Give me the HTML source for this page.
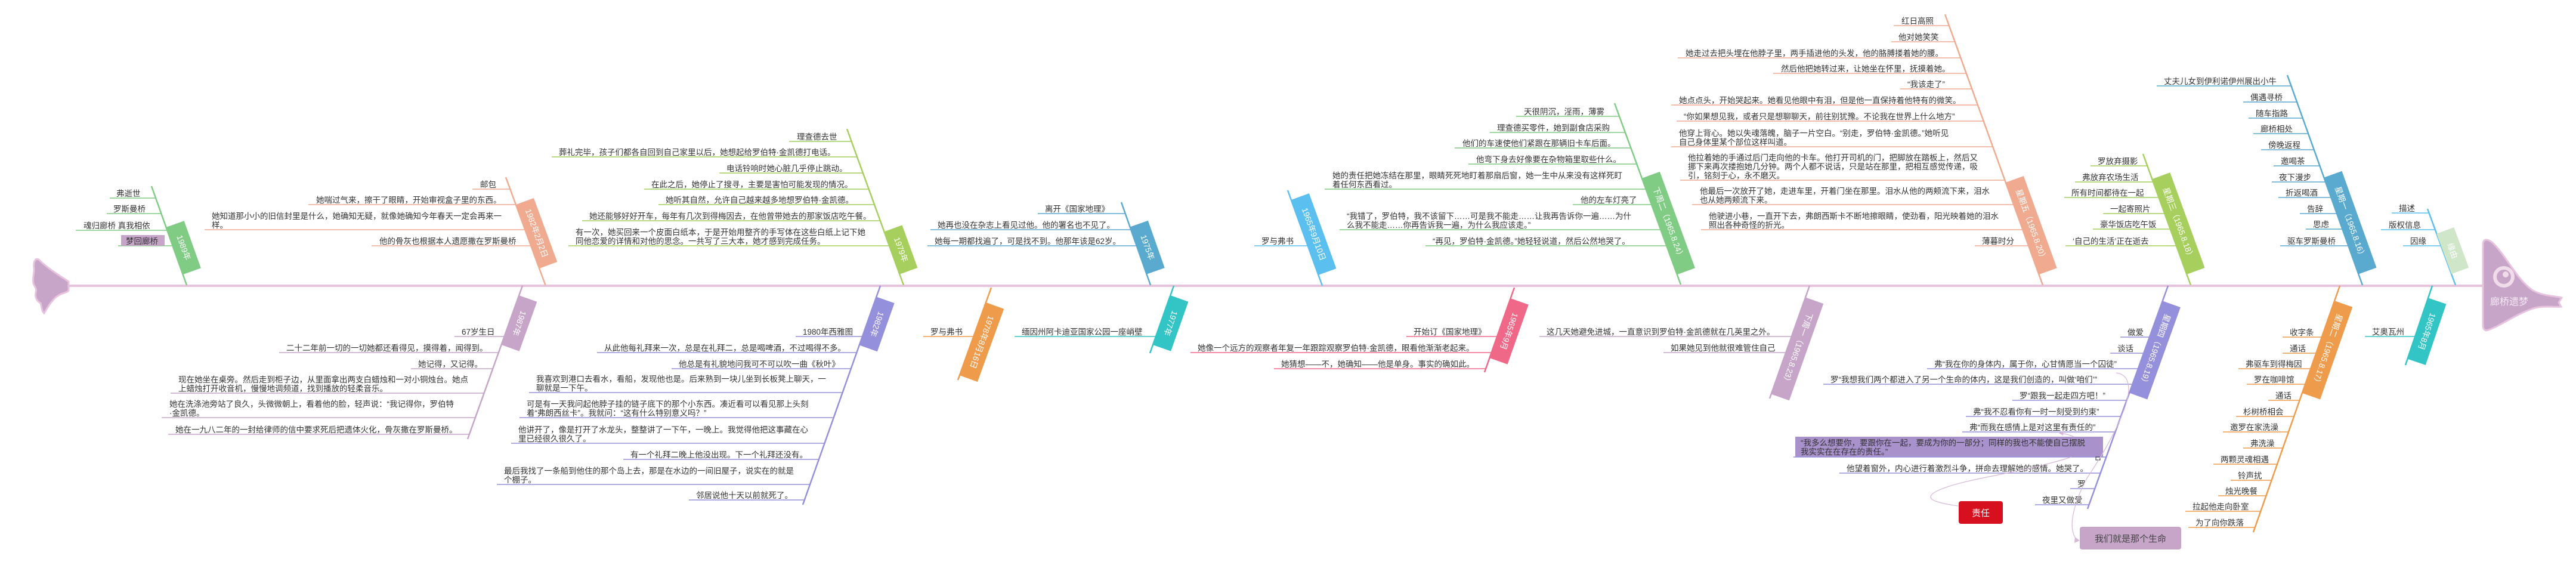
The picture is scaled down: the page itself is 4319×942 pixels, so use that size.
<!DOCTYPE html>
<html><head><meta charset="utf-8"><style>
html,body{margin:0;padding:0;background:#fff;}
svg{display:block;}
text{font-family:"Liberation Sans","Noto Sans CJK SC",sans-serif;font-size:13.5px;fill:#333;}
.bt{fill:#fff;font-size:13.5px;text-anchor:middle;dominant-baseline:central;}
</style></head><body>
<svg width="4319" height="942" viewBox="0 0 4319 942" xmlns="http://www.w3.org/2000/svg">
<!-- spine -->
<line x1="110" y1="479" x2="4168" y2="479" stroke="#e8c3de" stroke-width="4"/>
<path d="M115,472 C100,462 80,450 65,435 C58,432 56,440 57,450 C58,458 54,465 56,475 C58,482 62,482 60,490 C58,498 62,505 68,508 C70,515 70,522 74,525 C80,515 88,500 100,494 C108,490 115,490 115,486 Z" fill="#c6a5c9" stroke="#e8c3de" stroke-width="3"/>
<!-- head -->
<path d="M4163,410 C4163,400 4170,400 4178,406 C4200,425 4220,470 4247,487 C4265,497 4285,496 4295,499 L4290,507 L4294,514 C4280,515 4262,512 4247,517 C4215,528 4195,545 4172,553 C4165,556 4163,550 4163,545 Z" fill="#c6a5c9" stroke="#e8c3de" stroke-width="3"/>
<circle cx="4198" cy="464" r="18" fill="#f1dcea"/>
<circle cx="4198" cy="464" r="12" fill="#c6a5c9"/>
<circle cx="4201" cy="460" r="5" fill="#f1dcea"/>
<text x="4207" y="511" style="font-size:16px;fill:#f6eaf3;text-anchor:middle">廊桥遗梦</text>

<!-- U1 1989 -->
<g stroke="#80cc84" stroke-width="1.5">
<line x1="254" y1="312" x2="313" y2="478" stroke-width="2.5"/>
<line x1="184" y1="332" x2="261" y2="332"/>
<line x1="179" y1="358" x2="270" y2="358"/>
<line x1="127" y1="386" x2="280" y2="386"/>
<line x1="198" y1="412" x2="289" y2="412"/>
</g>
<rect x="203" y="394" width="73" height="18" fill="#c6a5c9"/>
<text x="195" y="329">弗逝世</text>
<text x="190" y="355">罗斯曼桥</text>
<text x="140" y="383">魂归廊桥  真我相依</text>
<text x="211" y="409">梦回廊桥</text>
<g transform="translate(292.6,420.5) rotate(70.4)"><rect x="-42" y="-32" width="84" height="32" fill="#80cc84"/><text class="bt" x="0" y="-16">1989年</text></g>

<!-- U2 1982.2.2 -->
<g stroke="#f0aa90" stroke-width="1.5">
<line x1="848" y1="297" x2="914.5" y2="478" stroke-width="2.5"/>
<line x1="792" y1="317" x2="855" y2="317"/>
<line x1="517" y1="343" x2="865" y2="343"/>
<line x1="343" y1="385" x2="880" y2="385"/>
<line x1="623" y1="412" x2="890" y2="412"/>
</g>
<text x="805" y="314">邮包</text>
<text x="530" y="340">她喘过气来，擦干了眼睛，开始审视盒子里的东西。</text>
<text x="355" y="367">她知道那小小的旧信封里是什么，她确知无疑，就像她确知今年春天一定会再来一</text>
<text x="355" y="382">样。</text>
<text x="636" y="409">他的骨灰也根据本人遗愿撒在罗斯曼桥</text>
<g transform="translate(884.6,396.5) rotate(69.8)"><rect x="-57" y="-32" width="114" height="32" fill="#f0aa90"/><text class="bt" x="0" y="-16">1982年2月2日</text></g>

<!-- U3 1979 -->
<g stroke="#a6cf5d" stroke-width="1.5">
<line x1="1420" y1="216" x2="1515" y2="478" stroke-width="2.5"/>
<line x1="1323" y1="237" x2="1428" y2="237"/>
<line x1="925" y1="263" x2="1437" y2="263"/>
<line x1="1206" y1="290" x2="1447" y2="290"/>
<line x1="1080" y1="317" x2="1457" y2="317"/>
<line x1="1104" y1="343" x2="1466" y2="343"/>
<line x1="976" y1="370" x2="1476" y2="370"/>
<line x1="953" y1="412" x2="1491" y2="412"/>
</g>
<text x="1336" y="234">理查德去世</text>
<text x="937" y="260">葬礼完毕，孩子们都各自回到自己家里以后，她想起给罗伯特·金凯德打电话。</text>
<text x="1218" y="287">电话铃响时她心脏几乎停止跳动。</text>
<text x="1092" y="314">在此之后，她停止了搜寻，主要是害怕可能发现的情况。</text>
<text x="1116" y="340">她听其自然，允许自己越来越多地想罗伯特·金凯德。</text>
<text x="988" y="367">她还能够好好开车，每年有几次到得梅因去，在他曾带她去的那家饭店吃午餐。</text>
<text x="965" y="394">有一次，她买回来一个皮面白纸本，于是开始用整齐的手写体在这些白纸上记下她</text>
<text x="965" y="409">同他恋爱的详情和对他的思念。一共写了三大本，她才感到完成任务。</text>
<g transform="translate(1495.4,424) rotate(70.1)"><rect x="-38" y="-32" width="76" height="32" fill="#a6cf5d"/><text class="bt" x="0" y="-16">1979年</text></g>

<!-- U4 1975 -->
<g stroke="#5aaad0" stroke-width="1.5">
<line x1="1880" y1="339" x2="1929" y2="478" stroke-width="2.5"/>
<line x1="1740" y1="358" x2="1887" y2="358"/>
<line x1="1560" y1="385" x2="1896" y2="385"/>
<line x1="1555" y1="412" x2="1906" y2="412"/>
</g>
<text x="1752" y="355">离开《国家地理》</text>
<text x="1572" y="382">她再也没在杂志上看见过他。他的署名也不见了。</text>
<text x="1567" y="409">她每一期都找遍了，可是找不到。他那年该是62岁。</text>
<g transform="translate(1908.6,420) rotate(70.6)"><rect x="-42" y="-32" width="84" height="32" fill="#5aaad0"/><text class="bt" x="0" y="-16">1975年</text></g>

<!-- U5 1965.9.10 -->
<g stroke="#5bc0f0" stroke-width="1.5">
<line x1="2159" y1="319" x2="2217" y2="479" stroke-width="2.5"/>
<line x1="2103" y1="412" x2="2193" y2="412"/>
</g>
<text x="2115" y="409">罗与弗书</text>
<g transform="translate(2187.6,398) rotate(70.1)"><rect x="-67" y="-32" width="134" height="32" fill="#5bc0f0"/><text class="bt" x="0" y="-16">1965年9月10日</text></g>

<!-- U6 下周二 -->
<g stroke="#80cc84" stroke-width="1.5">
<line x1="2707" y1="173" x2="2818" y2="477" stroke-width="2.5"/>
<line x1="2542" y1="195" x2="2715" y2="195"/>
<line x1="2498" y1="222" x2="2725" y2="222"/>
<line x1="2439" y1="248" x2="2734" y2="248"/>
<line x1="2462" y1="275" x2="2744" y2="275"/>
<line x1="2221" y1="317" x2="2760" y2="317"/>
<line x1="2637" y1="343" x2="2769" y2="343"/>
<line x1="2246" y1="385" x2="2784" y2="385"/>
<line x1="2390" y1="412" x2="2794" y2="412"/>
</g>
<text x="2555" y="192">天很阴沉，淫雨，薄雾</text>
<text x="2510" y="219">理查德买零件，她到副食店采购</text>
<text x="2452" y="245">他们的车速使他们紧跟在那辆旧卡车后面。</text>
<text x="2475" y="272">他弯下身去好像要在杂物箱里取些什么。</text>
<text x="2234" y="299">她的责任把她冻结在那里，眼睛死死地盯着那扇后窗，她一生中从来没有这样死盯</text>
<text x="2234" y="314">着任何东西看过。</text>
<text x="2650" y="340">他的左车灯亮了</text>
<text x="2258" y="367">“我错了，罗伯特，我不该留下……可是我不能走……让我再告诉你一遍……为什</text>
<text x="2258" y="382">么我不能走……你再告诉我一遍，为什么我应该走。”</text>
<text x="2402" y="409">“再见，罗伯特·金凯德。”她轻轻说道，然后公然地哭了。</text>
<g transform="translate(2782.4,379.5) rotate(69.9)"><rect x="-86" y="-32" width="172" height="32" fill="#80cc84"/><text class="bt" x="0" y="-16">下周二（1965.8.24）</text></g>

<!-- U7 星期五 -->
<g stroke="#f0aa90" stroke-width="1.5">
<line x1="3261" y1="24" x2="3425" y2="478" stroke-width="2.5"/>
<line x1="3175" y1="43" x2="3268" y2="43"/>
<line x1="3171" y1="70" x2="3278" y2="70"/>
<line x1="2813" y1="97" x2="3287" y2="97"/>
<line x1="2973" y1="123" x2="3297" y2="123"/>
<line x1="3186" y1="149" x2="3306" y2="149"/>
<line x1="2802" y1="176" x2="3316" y2="176"/>
<line x1="2811" y1="203" x2="3326" y2="203"/>
<line x1="2802" y1="246" x2="3341" y2="246"/>
<line x1="2817" y1="302" x2="3361" y2="302"/>
<line x1="2837" y1="343" x2="3376" y2="343"/>
<line x1="2852" y1="385" x2="3391" y2="385"/>
<line x1="3311" y1="412" x2="3401" y2="412"/>
</g>
<text x="3188" y="40">红日高照</text>
<text x="3183" y="67">他对她笑笑</text>
<text x="2826" y="94">她走过去把头埋在他脖子里，两手插进他的头发，他的胳膊搂着她的腰。</text>
<text x="2986" y="120">然后他把她转过来，让她坐在怀里，抚摸着她。</text>
<text x="3198" y="146">“我该走了”</text>
<text x="2815" y="173">她点点头，开始哭起来。她看见他眼中有泪，但是他一直保持着他特有的微笑。</text>
<text x="2823" y="200">“你如果想见我，或者只是想聊聊天，前往别犹豫。不论我在世界上什么地方”</text>
<text x="2815" y="228">他穿上背心。她以失魂落魄，脑子一片空白。“别走，罗伯特·金凯德。”她听见</text>
<text x="2815" y="243">自己身体里某个部位这样叫道。</text>
<text x="2830" y="269">他拉着她的手通过后门走向他的卡车。他打开司机的门，把脚放在踏板上，然后又</text>
<text x="2830" y="284">挪下来再次搂抱她几分钟。两个人都不说话，只是站在那里，把相互感觉传递，吸</text>
<text x="2830" y="299">引，铭刻于心，永不磨灭。</text>
<text x="2850" y="325">他最后一次放开了她，走进车里，开着门坐在那里。泪水从他的两颊流下来，泪水</text>
<text x="2850" y="340">也从她两颊流下来。</text>
<text x="2865" y="367">他驶进小巷，一直开下去，弗朗西斯卡不断地擦眼睛，使劲看，阳光映着她的泪水</text>
<text x="2865" y="382">照出各种奇怪的折光。</text>
<text x="3323" y="409">薄暮时分</text>
<g transform="translate(3390.7,383) rotate(70.1)"><rect x="-82" y="-32" width="164" height="32" fill="#f0aa90"/><text class="bt" x="0" y="-16">星期五（1965.8.20）</text></g>

<!-- U8 星期三 -->
<g stroke="#a6cf5d" stroke-width="1.5">
<line x1="3593" y1="258" x2="3673" y2="478" stroke-width="2.5"/>
<line x1="3505" y1="278" x2="3600" y2="278"/>
<line x1="3479" y1="305" x2="3610" y2="305"/>
<line x1="3461" y1="331" x2="3620" y2="331"/>
<line x1="3526" y1="358" x2="3629" y2="358"/>
<line x1="3509" y1="384" x2="3639" y2="384"/>
<line x1="3463" y1="412" x2="3649" y2="412"/>
</g>
<text x="3517" y="275">罗放弃摄影</text>
<text x="3491" y="302">弗放弃农场生活</text>
<text x="3473" y="328">所有时间都待在一起</text>
<text x="3538" y="355">一起寄照片</text>
<text x="3521" y="381">豪华饭店吃午饭</text>
<text x="3475" y="409">‘自己的生活’正在逝去</text>
<g transform="translate(3637.4,380) rotate(70)"><rect x="-85" y="-32" width="170" height="32" fill="#a6cf5d"/><text class="bt" x="0" y="-16">星期三（1965.8.18）</text></g>

<!-- U9 星期一 -->
<g stroke="#5aaad0" stroke-width="1.5">
<line x1="3835" y1="126" x2="3961" y2="478" stroke-width="2.5"/>
<line x1="3616" y1="144" x2="3841" y2="144"/>
<line x1="3761" y1="171" x2="3851" y2="171"/>
<line x1="3770" y1="198" x2="3861" y2="198"/>
<line x1="3778" y1="224" x2="3870" y2="224"/>
<line x1="3791" y1="251" x2="3880" y2="251"/>
<line x1="3812" y1="278" x2="3889" y2="278"/>
<line x1="3809" y1="305" x2="3899" y2="305"/>
<line x1="3820" y1="331" x2="3908" y2="331"/>
<line x1="3856" y1="358" x2="3918" y2="358"/>
<line x1="3866" y1="384" x2="3927" y2="384"/>
<line x1="3823" y1="412" x2="3937" y2="412"/>
</g>
<text x="3628" y="141">丈夫儿女到伊利诺伊州展出小牛</text>
<text x="3773" y="168">偶遇寻桥</text>
<text x="3782" y="195">随车指路</text>
<text x="3790" y="221">廊桥相处</text>
<text x="3803" y="248">傍晚返程</text>
<text x="3824" y="275">邀喝茶</text>
<text x="3821" y="302">夜下漫步</text>
<text x="3832" y="328">折返喝酒</text>
<text x="3868" y="355">告辞</text>
<text x="3878" y="381">思虑</text>
<text x="3835" y="409">驱车罗斯曼桥</text>
<g transform="translate(3925.4,378.5) rotate(70.3)"><rect x="-86" y="-32" width="172" height="32" fill="#5aaad0"/><text class="bt" x="0" y="-16">星期一（1965.8.16）</text></g>

<!-- U10 缘由 -->
<g stroke="#5bc0f0" stroke-width="1.5">
<line x1="4070" y1="350" x2="4117" y2="478" stroke-width="2.5"/>
<line x1="4010" y1="357" x2="4073" y2="357"/>
<line x1="3992" y1="385" x2="4083" y2="385"/>
<line x1="4029" y1="412" x2="4093" y2="412"/>
</g>
<text x="4022" y="354">描述</text>
<text x="4005" y="382">版权信息</text>
<text x="4041" y="409">因缘</text>
<g transform="translate(4097.7,425.5) rotate(69.8)"><rect x="-36" y="-31" width="72" height="31" fill="#cfe6c9"/><text class="bt" x="0" y="-15">缘由</text></g>

<!-- L1 1987 -->
<g stroke="#c6a5c9" stroke-width="1.5">
<line x1="876" y1="479" x2="784" y2="736" stroke-width="2.5"/>
<line x1="762" y1="564" x2="846" y2="564"/>
<line x1="468" y1="591" x2="836" y2="591"/>
<line x1="689" y1="618" x2="826" y2="618"/>
<line x1="286" y1="659" x2="812" y2="659"/>
<line x1="271" y1="700" x2="797" y2="700"/>
<line x1="282" y1="728" x2="787" y2="728"/>
</g>
<text x="774" y="561">67岁生日</text>
<text x="480" y="588">二十二年前一切的一切她都还看得见，摸得着，闻得到。</text>
<text x="701" y="615">她记得，又记得。</text>
<text x="299" y="641">现在她坐在桌旁。然后走到柜子边，从里面拿出两支白蜡烛和一对小铜烛台。她点</text>
<text x="299" y="656">上蜡烛打开收音机，慢慢地调频道，找到播放的轻柔音乐。</text>
<text x="284" y="682">她在洗涤池旁站了良久，头微微朝上，看着他的脸，轻声说：“我记得你，罗伯特</text>
<text x="284" y="697">·金凯德。</text>
<text x="294" y="725">她在一九八二年的一封给律师的信中要求死后把遗体火化，骨灰撒在罗斯曼桥。</text>
<g transform="translate(855.4,536.5) rotate(109.7)"><rect x="-44" y="-32" width="88" height="32" fill="#c6a5c9"/><text class="bt" x="0" y="-16">1987年</text></g>

<!-- L2 1982 -->
<g stroke="#9590dc" stroke-width="1.5">
<line x1="1476" y1="479" x2="1346" y2="846" stroke-width="2.5"/>
<line x1="1334" y1="564" x2="1446" y2="564"/>
<line x1="1001" y1="591" x2="1436" y2="591"/>
<line x1="1126" y1="618" x2="1427" y2="618"/>
<line x1="887" y1="658" x2="1413" y2="658"/>
<line x1="871" y1="700" x2="1398" y2="700"/>
<line x1="857" y1="743" x2="1383" y2="743"/>
<line x1="1045" y1="770" x2="1373" y2="770"/>
<line x1="833" y1="812" x2="1358" y2="812"/>
<line x1="1155" y1="838" x2="1349" y2="838"/>
</g>
<text x="1346" y="561">1980年西雅图</text>
<text x="1013" y="588">从此他每礼拜来一次，总是在礼拜二，总是喝啤酒，不过喝得不多。</text>
<text x="1138" y="615">他总是有礼貌地问我可不可以吹一曲《秋叶》</text>
<text x="899" y="640">我喜欢到港口去看水，看船，发现他也是。后来熟到一块儿坐到长板凳上聊天，一</text>
<text x="899" y="655">聊就是一下午。</text>
<text x="883" y="682">可是有一天我问起他脖子挂的链子底下的那个小东西。凑近看可以看见那上头刻</text>
<text x="883" y="697">着“弗朗西丝卡”。我就问：“这有什么特别意义吗？”</text>
<text x="869" y="725">他讲开了，像是打开了水龙头，整整讲了一下午，一晚上。我觉得他把这事藏在心</text>
<text x="869" y="740">里已经很久很久了。</text>
<text x="1057" y="767">有一个礼拜二晚上他没出现。下一个礼拜还没有。</text>
<text x="845" y="794">最后我找了一条船到他住的那个岛上去，那是在水边的一间旧屋子，说实在的就是</text>
<text x="845" y="809">个棚子。</text>
<text x="1167" y="835">邻居说他十天以前就死了。</text>
<g transform="translate(1455.1,538) rotate(109.5)"><rect x="-43" y="-32" width="86" height="32" fill="#9590dc"/><text class="bt" x="0" y="-16">1982年</text></g>

<!-- L3 1978.8.16 -->
<g stroke="#ef9b4c" stroke-width="1.5">
<line x1="1662" y1="482" x2="1606" y2="637" stroke-width="2.5"/>
<line x1="1548" y1="564" x2="1632" y2="564"/>
</g>
<text x="1560" y="561">罗与弗书</text>
<g transform="translate(1631,568) rotate(109.9)"><rect x="-65" y="-32" width="130" height="32" fill="#ef9b4c"/><text class="bt" x="0" y="-16">1978年8月16日</text></g>

<!-- L4 1977 -->
<g stroke="#33c5c5" stroke-width="1.5">
<line x1="1968" y1="479" x2="1928" y2="592" stroke-width="2.5"/>
<line x1="1701" y1="564" x2="1938" y2="564"/>
</g>
<text x="1713" y="561">缅因州阿卡迪亚国家公园一座峭壁</text>
<g transform="translate(1947.6,536.5) rotate(109.5)"><rect x="-44" y="-32" width="88" height="32" fill="#33c5c5"/><text class="bt" x="0" y="-16">1977年</text></g>

<!-- L5 1965.9 -->
<g stroke="#f06888" stroke-width="1.5">
<line x1="2539" y1="482" x2="2489" y2="624" stroke-width="2.5"/>
<line x1="2358" y1="564" x2="2510" y2="564"/>
<line x1="1996" y1="591" x2="2501" y2="591"/>
<line x1="2136" y1="618" x2="2491" y2="618"/>
</g>
<text x="2370" y="561">开始订《国家地理》</text>
<text x="2008" y="588">她像一个远方的观察者年复一年跟踪观察罗伯特·金凯德，眼看他渐渐老起来。</text>
<text x="2148" y="615">她猜想——不，她确知——他是单身。事实的确如此。</text>
<g transform="translate(2515,550) rotate(109.4)"><rect x="-53" y="-32" width="106" height="32" fill="#f06888"/><text class="bt" x="0" y="-16">1965年9月</text></g>

<!-- L6 下周一 -->
<g stroke="#c6a5c9" stroke-width="1.5">
<line x1="3034" y1="479" x2="2967" y2="668" stroke-width="2.5"/>
<line x1="2581" y1="564" x2="3004" y2="564"/>
<line x1="2789" y1="591" x2="2994" y2="591"/>
</g>
<text x="2593" y="561">这几天她避免进城，一直意识到罗伯特·金凯德就在几英里之外。</text>
<text x="2801" y="588">如果她见到他就很难管住自己</text>
<g transform="translate(2998.4,579.5) rotate(109.5)"><rect x="-86" y="-32" width="172" height="32" fill="#c6a5c9"/><text class="bt" x="0" y="-16">下周一（1965.8.23）</text></g>

<!-- L7 星期四 -->
<rect x="3010" y="732" width="516" height="34" fill="#a992cc"/>
<g stroke="#9590dc" stroke-width="1.5">
<line x1="3635" y1="479" x2="3500" y2="853" stroke-width="2.5"/>
<line x1="3555" y1="565" x2="3604" y2="565"/>
<line x1="3538" y1="592" x2="3594" y2="592"/>
<line x1="3231" y1="618" x2="3585" y2="618"/>
<line x1="3057" y1="644" x2="3575" y2="644"/>
<line x1="3374" y1="671" x2="3566" y2="671"/>
<line x1="3296" y1="698" x2="3556" y2="698"/>
<line x1="3290" y1="724" x2="3547" y2="724"/>
<line x1="3007" y1="766" x2="3531" y2="766"/>
<line x1="3084" y1="793" x2="3522" y2="793"/>
<line x1="3471" y1="819" x2="3512" y2="819"/>
<line x1="3412" y1="846" x2="3502" y2="846"/>
</g>
<text x="3567" y="562">做爱</text>
<text x="3550" y="589">谈话</text>
<text x="3243" y="615">弗“我在你的身体内，属于你，心甘情愿当一个囚徒”</text>
<text x="3069" y="641">罗“我想我们两个都进入了另一个生命的体内，这是我们创造的，叫做‘咱们’”</text>
<text x="3386" y="668">罗“跟我一起走四方吧！”</text>
<text x="3308" y="695">弗“我不忍看你有一时一刻受到约束”</text>
<text x="3302" y="721">弗“而我在感情上是对这里有责任的”</text>
<text x="3019" y="747">“我多么想要你，要跟你在一起，要成为你的一部分；同样的我也不能使自己摆脱</text>
<text x="3019" y="762">我实实在在存在的责任。”</text>
<rect x="3514" y="766" width="7" height="5" fill="none" stroke="#333" stroke-width="1"/>
<text x="3096" y="790">他望着窗外，内心进行着激烈斗争，拼命去理解她的感情。她哭了。</text>
<text x="3483" y="816">罗</text>
<text x="3424" y="843">夜里又做爱</text>
<g fill="none" stroke="#d7b8d8" stroke-width="1.2">
<path d="M3548,625 C3575,628 3572,660 3560,690 C3545,730 3520,770 3500,800 C3478,840 3465,885 3482,905"/>
<path d="M3473,766 C3430,780 3380,790 3330,800 C3255,815 3220,830 3245,840 C3260,845 3270,846 3283,848"/>
<path d="M3477,732 C3470,729 3462,727 3455,726"/>
</g>
<path d="M3487,906 L3479,900 L3478,910 Z" fill="#d7b8d8"/>
<path d="M3452,726 L3460,722 L3459,730 Z" fill="#d7b8d8"/>
<rect x="3284" y="840" width="74" height="38" rx="4" fill="#d7101f"/>
<text x="3321" y="865" style="fill:#fff;font-size:15px;text-anchor:middle">责任</text>
<rect x="3487" y="883" width="170" height="38" rx="4" fill="#c6a5c9"/>
<text x="3572" y="908" style="font-size:15px;text-anchor:middle;fill:#444">我们就是那个生命</text>
<g transform="translate(3598,581.5) rotate(109.8)"><rect x="-82" y="-32" width="164" height="32" fill="#9590dc"/><text class="bt" x="0" y="-16">星期四（1965.8.19）</text></g>

<!-- L8 星期二 -->
<g stroke="#ef9b4c" stroke-width="1.5">
<line x1="3923" y1="479" x2="3778" y2="892" stroke-width="2.5"/>
<line x1="3827" y1="565" x2="3893" y2="565"/>
<line x1="3827" y1="592" x2="3883" y2="592"/>
<line x1="3753" y1="618" x2="3874" y2="618"/>
<line x1="3767" y1="644" x2="3865" y2="644"/>
<line x1="3803" y1="671" x2="3856" y2="671"/>
<line x1="3749" y1="698" x2="3846" y2="698"/>
<line x1="3727" y1="724" x2="3837" y2="724"/>
<line x1="3761" y1="751" x2="3828" y2="751"/>
<line x1="3711" y1="778" x2="3818" y2="778"/>
<line x1="3740" y1="805" x2="3809" y2="805"/>
<line x1="3719" y1="831" x2="3799" y2="831"/>
<line x1="3664" y1="857" x2="3790" y2="857"/>
<line x1="3669" y1="884" x2="3781" y2="884"/>
</g>
<text x="3839" y="562">收字条</text>
<text x="3839" y="589">通话</text>
<text x="3765" y="615">弗驱车到得梅因</text>
<text x="3779" y="641">罗在咖啡馆</text>
<text x="3815" y="668">通话</text>
<text x="3761" y="695">杉树桥相会</text>
<text x="3739" y="721">邀罗在家洗澡</text>
<text x="3773" y="748">弗洗澡</text>
<text x="3723" y="775">两颗灵魂相遇</text>
<text x="3752" y="802">铃声扰</text>
<text x="3731" y="828">烛光晚餐</text>
<text x="3676" y="854">拉起他走向卧室</text>
<text x="3681" y="881">为了向你跌落</text>
<g transform="translate(3887,581.5) rotate(109.3)"><rect x="-82" y="-32" width="164" height="32" fill="#ef9b4c"/><text class="bt" x="0" y="-16">星期二（1965.8.17）</text></g>

<!-- L9 1965.8 -->
<g stroke="#33c5c5" stroke-width="1.5">
<line x1="4078" y1="479" x2="4033" y2="612" stroke-width="2.5"/>
<line x1="3965" y1="564" x2="4049" y2="564"/>
</g>
<text x="3977" y="561">艾奥瓦州</text>
<g transform="translate(4053.8,550.5) rotate(108.7)"><rect x="-54" y="-32" width="108" height="32" fill="#33c5c5"/><text class="bt" x="0" y="-16">1965年8月</text></g>
</svg>
</body></html>
